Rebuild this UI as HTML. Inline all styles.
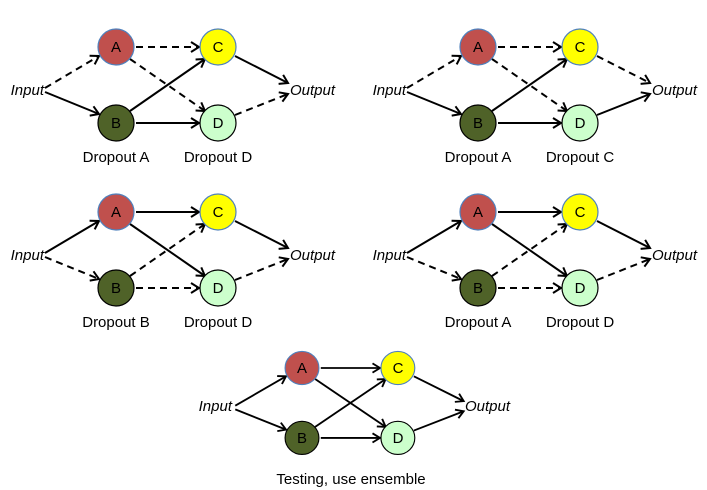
<!DOCTYPE html>
<html><head><style>
body{margin:0;background:#fff}
svg{display:block}
text{font-family:"Liberation Sans",sans-serif;font-size:15px;fill:#000}
.i{font-style:italic}
line{stroke:#000;stroke-width:2}
.d{stroke-dasharray:7,5}
</style></head><body>
<svg width="707" height="490" viewBox="0 0 707 490">
<defs>
<marker id="ar" markerUnits="userSpaceOnUse" markerWidth="14" markerHeight="14" refX="11" refY="7" orient="auto">
<path d="M3,2 L11,7 L3,12" fill="none" stroke="#000" stroke-width="2"/>
</marker>
<g id="circ">
<circle cx="0" cy="0" r="18" fill="#c0504d" stroke="#4f81bd" stroke-width="1.2"/>
<circle cx="0" cy="76" r="18" fill="#4f6228" stroke="#000" stroke-width="1.2"/>
<circle cx="102" cy="0" r="18" fill="#ffff00" stroke="#4f81bd" stroke-width="1.2"/>
<circle cx="102" cy="76" r="18" fill="#ccffcc" stroke="#000" stroke-width="1.2"/>
</g>
<g id="nodes">
<use href="#circ"/>
<text x="0" y="5" text-anchor="middle">A</text>
<text x="0" y="81" text-anchor="middle">B</text>
<text x="102" y="5" text-anchor="middle">C</text>
<text x="102" y="81" text-anchor="middle">D</text>
<text class="i" x="-72" y="48" text-anchor="end">Input</text>
<text class="i" x="174" y="48">Output</text>
</g>
</defs>

<g transform="translate(116,47)">
<line class="d" x1="-71" y1="41" x2="-17" y2="9" marker-end="url(#ar)"/>
<line x1="-71" y1="45" x2="-17" y2="67" marker-end="url(#ar)"/>
<line class="d" x1="20" y1="0" x2="83" y2="0" marker-end="url(#ar)"/>
<line class="d" x1="14" y1="12" x2="89" y2="64" marker-end="url(#ar)"/>
<line x1="14" y1="64" x2="89" y2="12" marker-end="url(#ar)"/>
<line x1="20" y1="76" x2="83" y2="76" marker-end="url(#ar)"/>
<line x1="119" y1="9" x2="172" y2="36" marker-end="url(#ar)"/>
<line class="d" x1="119" y1="68" x2="172" y2="47" marker-end="url(#ar)"/>
<use href="#nodes"/>
<text x="0" y="115" text-anchor="middle">Dropout A</text>
<text x="102" y="115" text-anchor="middle">Dropout D</text>
</g>

<g transform="translate(478,47)">
<line class="d" x1="-71" y1="41" x2="-17" y2="9" marker-end="url(#ar)"/>
<line x1="-71" y1="45" x2="-17" y2="67" marker-end="url(#ar)"/>
<line class="d" x1="20" y1="0" x2="83" y2="0" marker-end="url(#ar)"/>
<line class="d" x1="14" y1="12" x2="89" y2="64" marker-end="url(#ar)"/>
<line x1="14" y1="64" x2="89" y2="12" marker-end="url(#ar)"/>
<line x1="20" y1="76" x2="83" y2="76" marker-end="url(#ar)"/>
<line class="d" x1="119" y1="9" x2="172" y2="36" marker-end="url(#ar)"/>
<line x1="119" y1="68" x2="172" y2="47" marker-end="url(#ar)"/>
<use href="#nodes"/>
<text x="0" y="115" text-anchor="middle">Dropout A</text>
<text x="102" y="115" text-anchor="middle">Dropout C</text>
</g>

<g transform="translate(116,212)">
<line x1="-71" y1="41" x2="-17" y2="9" marker-end="url(#ar)"/>
<line class="d" x1="-71" y1="45" x2="-17" y2="67" marker-end="url(#ar)"/>
<line x1="20" y1="0" x2="83" y2="0" marker-end="url(#ar)"/>
<line x1="14" y1="12" x2="89" y2="64" marker-end="url(#ar)"/>
<line class="d" x1="14" y1="64" x2="89" y2="12" marker-end="url(#ar)"/>
<line class="d" x1="20" y1="76" x2="83" y2="76" marker-end="url(#ar)"/>
<line x1="119" y1="9" x2="172" y2="36" marker-end="url(#ar)"/>
<line class="d" x1="119" y1="68" x2="172" y2="47" marker-end="url(#ar)"/>
<use href="#nodes"/>
<text x="0" y="115" text-anchor="middle">Dropout B</text>
<text x="102" y="115" text-anchor="middle">Dropout D</text>
</g>

<g transform="translate(478,212)">
<line x1="-71" y1="41" x2="-17" y2="9" marker-end="url(#ar)"/>
<line class="d" x1="-71" y1="45" x2="-17" y2="67" marker-end="url(#ar)"/>
<line x1="20" y1="0" x2="83" y2="0" marker-end="url(#ar)"/>
<line x1="14" y1="12" x2="89" y2="64" marker-end="url(#ar)"/>
<line class="d" x1="14" y1="64" x2="89" y2="12" marker-end="url(#ar)"/>
<line class="d" x1="20" y1="76" x2="83" y2="76" marker-end="url(#ar)"/>
<line x1="119" y1="9" x2="172" y2="36" marker-end="url(#ar)"/>
<line class="d" x1="119" y1="68" x2="172" y2="47" marker-end="url(#ar)"/>
<use href="#nodes"/>
<text x="0" y="115" text-anchor="middle">Dropout A</text>
<text x="102" y="115" text-anchor="middle">Dropout D</text>
</g>

<g transform="translate(302,368) scale(0.94,0.92)">
<line x1="-71" y1="41" x2="-17" y2="9" marker-end="url(#ar)"/>
<line x1="-71" y1="45" x2="-17" y2="67" marker-end="url(#ar)"/>
<line x1="20" y1="0" x2="83" y2="0" marker-end="url(#ar)"/>
<line x1="14" y1="12" x2="89" y2="64" marker-end="url(#ar)"/>
<line x1="14" y1="64" x2="89" y2="12" marker-end="url(#ar)"/>
<line x1="20" y1="76" x2="83" y2="76" marker-end="url(#ar)"/>
<line x1="119" y1="9" x2="172" y2="36" marker-end="url(#ar)"/>
<line x1="119" y1="68" x2="172" y2="47" marker-end="url(#ar)"/>
<use href="#circ"/>
</g>
<text x="302" y="373" text-anchor="middle">A</text>
<text x="302" y="443" text-anchor="middle">B</text>
<text x="398" y="373" text-anchor="middle">C</text>
<text x="398" y="443" text-anchor="middle">D</text>
<text class="i" x="232" y="411" text-anchor="end">Input</text>
<text class="i" x="465" y="411">Output</text>
<text x="351" y="484" text-anchor="middle">Testing, use ensemble</text>
</svg>
</body></html>
